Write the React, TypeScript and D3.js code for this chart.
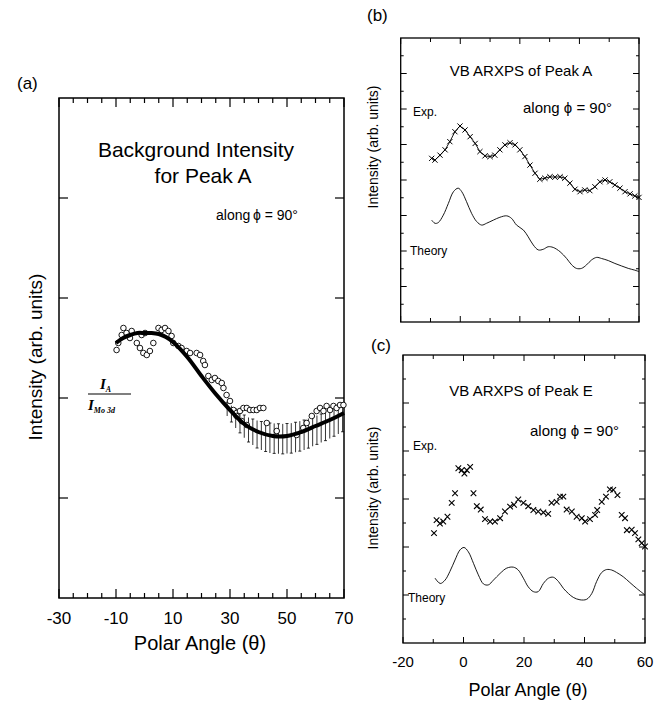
import React from "react";
import * as d3 from "d3";

// ---------- Panel (a) data ----------
const fitA_x = [-10, -7.5, -5, -2.5, 0, 2.5, 5, 7.5, 10, 15, 20, 25, 30, 35, 40, 45, 50, 55, 60, 65, 70];
const fitA_y = [2.55, 2.6, 2.63, 2.65, 2.65, 2.65, 2.64, 2.61, 2.56, 2.41, 2.22, 2.04, 1.88, 1.74, 1.66, 1.62, 1.62, 1.66, 1.72, 1.78, 1.85];

const circA_x = [-9.8, -9.2, -8.0, -7.4, -6.3, -5.1, -4.5, -2.7, -1.6, -0.4, 0.8, 1.9, -1.0, 0.2, 3.1, 4.9, 6.0, 7.2, 8.4, 9.5, 10.1, 11.9, 13.0, 14.8, 16.0, 18.3, 19.5, 20.6, 21.2, 22.4, 23.6, 24.7, 25.9, 27.1, 27.7, 28.8, 30.0, 31.2, 32.3, 33.5, 34.7, 35.9, 37.0, 38.2, 39.4, 40.5, 41.7, 32.3, 34.1, 35.9, 42.9, 46.4, 53.4, 55.7, 56.9, 58.7, 60.4, 61.6, 62.8, 63.9, 65.1, 66.3, 67.4, 68.6, 69.8];
const circA_y = [2.48, 2.55, 2.63, 2.7, 2.65, 2.6, 2.67, 2.55, 2.5, 2.45, 2.43, 2.47, 2.63, 2.65, 2.55, 2.7, 2.68, 2.7, 2.67, 2.62, 2.55, 2.52, 2.5, 2.47, 2.45, 2.45, 2.43, 2.37, 2.33, 2.22, 2.18, 2.2, 2.17, 2.15, 2.1, 2.03, 1.97, 1.88, 1.85, 1.87, 1.9, 1.9, 1.88, 1.88, 1.88, 1.9, 1.9, 1.82, 1.77, 1.73, 1.75, 1.67, 1.63, 1.7, 1.75, 1.82, 1.87, 1.9, 1.87, 1.92, 1.88, 1.92, 1.9, 1.93, 1.93];

const bandA_x = [28, 32, 36, 40, 44, 48, 52, 56, 60, 64, 68, 70];
const bandA_hi = [1.98, 1.89, 1.81, 1.77, 1.75, 1.74, 1.75, 1.78, 1.82, 1.86, 1.91, 1.93];
const bandA_lo = [1.86, 1.7, 1.57, 1.49, 1.45, 1.44, 1.45, 1.48, 1.53, 1.58, 1.64, 1.67];

const xTickLabelsA = [-30, -10, 10, 30, 50, 70];
const yTicksA = [1, 2, 3, 4];

// ---------- Panel (b) data ----------
const expB_x = [-9.6, -8.5, -6.8, -5.1, -3.5, -1.8, -0.1, 1.6, 3.3, 5.0, 6.6, 8.3, 10.0, 11.6, 13.3, 15.0, 16.7, 18.4, 20.0, 21.7, 23.4, 25.1, 26.7, 28.4, 30.1, 31.8, 33.5, 35.1, 36.8, 38.5, 40.2, 41.8, 43.5, 45.2, 46.9, 48.6, 50.2, 51.9, 53.6, 55.3, 57.0, 58.6, 60.0];
const expB_y = [4.61, 4.56, 4.7, 4.85, 5.08, 5.36, 5.52, 5.41, 5.22, 5.03, 4.8, 4.68, 4.66, 4.7, 4.85, 4.99, 5.05, 4.99, 4.85, 4.66, 4.42, 4.19, 4.02, 4.05, 4.09, 4.08, 4.09, 4.05, 3.91, 3.74, 3.67, 3.72, 3.7, 3.81, 3.95, 4.0, 3.95, 3.86, 3.77, 3.67, 3.61, 3.55, 3.51];

const thB_x = [-9.6, -8.5, -7.4, -5.7, -4.0, -2.3, -0.7, 0.5, 2.1, 3.8, 5.5, 7.2, 8.8, 11.1, 13.3, 15.6, 17.2, 18.9, 21.2, 22.8, 24.5, 26.2, 27.9, 29.5, 31.2, 33.5, 35.7, 37.4, 39.0, 40.7, 42.4, 44.1, 45.8, 47.4, 49.7, 51.9, 54.1, 56.4, 58.6, 60.0];
const thB_y = [2.87, 2.78, 2.8, 3.01, 3.34, 3.67, 3.77, 3.67, 3.39, 3.06, 2.83, 2.73, 2.78, 2.87, 2.95, 2.99, 2.92, 2.73, 2.59, 2.4, 2.17, 2.03, 2.05, 2.12, 2.1, 1.98, 1.79, 1.61, 1.51, 1.51, 1.61, 1.75, 1.82, 1.79, 1.73, 1.65, 1.58, 1.51, 1.46, 1.42];

// ---------- Panel (c) data ----------
const expC_x = [-9.75, -8.9, -7.8, -6.7, -5.3, -3.9, -2.8, -1.7, -0.6, 0.3, 1.1, 2.2, 3.3, 4.4, 5.7, 7.1, 8.8, 10.4, 12.1, 13.7, 15.4, 16.7, 18.1, 19.8, 21.4, 23.1, 24.7, 26.4, 28.0, 29.1, 30.8, 31.9, 33.0, 34.1, 35.8, 37.4, 39.1, 40.2, 41.8, 43.5, 44.2, 45.7, 47.1, 48.4, 49.5, 50.9, 52.3, 53.4, 54.0, 55.6, 56.7, 57.8, 58.9, 60.0];
const expC_y = [2.29, 2.56, 2.49, 2.53, 2.63, 2.92, 3.12, 3.64, 3.6, 3.53, 3.6, 3.67, 3.12, 2.85, 2.78, 2.58, 2.53, 2.53, 2.6, 2.74, 2.84, 2.88, 2.99, 2.92, 2.85, 2.77, 2.74, 2.72, 2.69, 2.92, 2.94, 3.05, 3.05, 2.78, 2.74, 2.63, 2.6, 2.53, 2.58, 2.67, 2.77, 2.94, 3.05, 3.2, 3.19, 3.08, 2.67, 2.6, 2.35, 2.36, 2.29, 2.16, 2.08, 2.01];

const thC_x = [-9.4, -7.7, -6.1, -4.5, -2.8, -1.15, 0.17, 1.6, 3.3, 4.9, 6.6, 8.2, 9.9, 12.1, 14.3, 16.5, 18.1, 19.8, 21.4, 23.1, 24.7, 26.4, 28.1, 29.7, 31.4, 33.0, 34.7, 36.3, 38.5, 40.7, 42.4, 44.0, 45.7, 47.3, 49.0, 50.6, 52.8, 55.0, 57.2, 60.0];
const thC_y = [1.35, 1.24, 1.31, 1.49, 1.73, 1.94, 1.99, 1.9, 1.66, 1.42, 1.23, 1.21, 1.31, 1.45, 1.56, 1.58, 1.52, 1.35, 1.17, 1.07, 1.07, 1.24, 1.35, 1.37, 1.28, 1.14, 1.03, 0.95, 0.9, 0.91, 1.03, 1.28, 1.47, 1.53, 1.52, 1.47, 1.38, 1.26, 1.14, 1.0];

const xTicksBC = [-20, -10, 0, 10, 20, 30, 40, 50, 60];
const xTickLabelsC = [-20, 0, 20, 40, 60];

const FONT = "Arial, 'Liberation Sans', Helvetica, sans-serif";

const zip = (xs: number[], ys: number[]) => xs.map((x, i) => [x, ys[i]] as [number, number]);

function Box({ x0, x1, y0, y1, sw }: { x0: number; x1: number; y0: number; y1: number; sw: number }) {
  return <rect x={x0} y={y0} width={x1 - x0} height={y1 - y0} fill="none" stroke="#000" strokeWidth={sw} />;
}

export default function App() {
  const xA = d3.scaleLinear().domain([-30, 70]).range([59, 344]);
  const yA = d3.scaleLinear().domain([0, 5]).range([598, 98]);
  const xB = d3.scaleLinear().domain([-20, 60]).range([400.7, 639]);
  const yB = d3.scaleLinear().domain([0, 8]).range([322, 38]);
  const xC = d3.scaleLinear().domain([-20, 60]).range([403, 645]);
  const yC = d3.scaleLinear().domain([0, 6]).range([643, 355]);

  const lineA = d3.line<[number, number]>().x(d => xA(d[0])).y(d => yA(d[1])).curve(d3.curveCatmullRom);
  const lineB = d3.line<[number, number]>().x(d => xB(d[0])).y(d => yB(d[1])).curve(d3.curveCatmullRom);
  const lineC = d3.line<[number, number]>().x(d => xC(d[0])).y(d => yC(d[1])).curve(d3.curveCatmullRom);

  const hiI = d3.scaleLinear().domain(bandA_x).range(bandA_hi);
  const loI = d3.scaleLinear().domain(bandA_x).range(bandA_lo);
  const hatchXs = d3.range(29, 70.01, 1.5);

  const xMinorA = d3.range(-30, 70.01, 5);
  const yMinorB = d3.range(0.5, 8, 0.5);
  const yMinorC = d3.range(0.5, 6, 0.5);

  const cross = (cx: number, cy: number, s: number, key: string, sw: number) => (
    <path key={key} d={`M${cx - s},${cy - s}L${cx + s},${cy + s}M${cx - s},${cy + s}L${cx + s},${cy - s}`} stroke="#000" strokeWidth={sw} fill="none" />
  );

  return (
    <svg width={667} height={702} style={{ position: "absolute", left: 0, top: 0, background: "#fff" }} fontFamily={FONT}>
      <rect x={0} y={0} width={667} height={702} fill="#fff" />

      {/* ================= Panel (a) ================= */}
      <text x={17} y={89} fontSize={17}>(a)</text>
      {xMinorA.map(v => {
        const major = (v + 30) % 20 === 0;
        const L = major ? 9 : 5;
        return (
          <g key={"xa" + v}>
            <line x1={xA(v)} x2={xA(v)} y1={598} y2={598 - L} stroke="#000" strokeWidth={1.2} />
            <line x1={xA(v)} x2={xA(v)} y1={98} y2={98 + L} stroke="#000" strokeWidth={1.2} />
          </g>
        );
      })}
      {yTicksA.map(v => (
        <g key={"ya" + v}>
          <line x1={59} x2={68} y1={yA(v)} y2={yA(v)} stroke="#000" strokeWidth={1.2} />
          <line x1={344} x2={335} y1={yA(v)} y2={yA(v)} stroke="#000" strokeWidth={1.2} />
        </g>
      ))}
      <Box x0={59} x1={344} y0={98} y1={598} sw={1.5} />
      {xTickLabelsA.map(v => (
        <text key={"xla" + v} x={xA(v)} y={624} fontSize={17} textAnchor="middle">{v}</text>
      ))}
      <text x={200} y={650} fontSize={20} textAnchor="middle">Polar Angle (θ)</text>
      <text transform="translate(42,357) rotate(-90)" fontSize={19} textAnchor="middle">Intensity (arb. units)</text>
      <text x={196} y={157} fontSize={21} textAnchor="middle">Background Intensity</text>
      <text x={203} y={183} fontSize={21} textAnchor="middle">for Peak A</text>
      <text x={216} y={220} fontSize={14}>along</text>
      <text x={253} y={220} fontSize={14}>ϕ = 90°</text>

      {/* I_A / I_Mo3d */}
      <g fontFamily="'Liberation Serif', 'Times New Roman', serif" fontStyle="italic" fontWeight="bold">
        <text x={100} y={389} fontSize={15}>I<tspan fontSize={8} dy={3}>A</tspan></text>
        <line x1={88} x2={131} y1={394} y2={394} stroke="#000" strokeWidth={1.2} />
        <text x={88} y={410} fontSize={15}>I<tspan fontSize={8} dy={3}>Mo 3d</tspan></text>
      </g>

      {/* hatch band */}
      <g stroke="#000" strokeWidth={0.8}>
        {hatchXs.map((v, i) => {
          const px = xA(v);
          const t = yA(hiI(v));
          const b = yA(loI(v));
          return (
            <g key={"h" + i}>
              <line x1={px} x2={px} y1={t} y2={b} />
              <line x1={px - 1.5} x2={px + 1.5} y1={i % 2 ? b : t} y2={i % 2 ? b : t} />
            </g>
          );
        })}
      </g>
      {circA_x.map((x, i) => (
        <circle key={"c" + i} cx={xA(x)} cy={yA(circA_y[i])} r={2.8} fill="#fff" stroke="#000" strokeWidth={0.9} />
      ))}
      <path d={lineA(zip(fitA_x, fitA_y)) || ""} fill="none" stroke="#000" strokeWidth={4} />

      {/* ================= Panel (b) ================= */}
      <text x={367} y={21} fontSize={17}>(b)</text>
      {xTicksBC.map(v => {
        const L = v % 20 === 0 ? 6 : 4;
        return (
          <g key={"xb" + v}>
            <line x1={xB(v)} x2={xB(v)} y1={322} y2={322 - L} stroke="#000" strokeWidth={1} />
            <line x1={xB(v)} x2={xB(v)} y1={38} y2={38 + L} stroke="#000" strokeWidth={1} />
          </g>
        );
      })}
      {yMinorB.map(v => {
        const L = v % 1 === 0 ? 6 : 3;
        return (
          <g key={"yb" + v}>
            <line x1={400.7} x2={400.7 + L} y1={yB(v)} y2={yB(v)} stroke="#000" strokeWidth={1} />
            <line x1={639} x2={639 - L} y1={yB(v)} y2={yB(v)} stroke="#000" strokeWidth={1} />
          </g>
        );
      })}
      <Box x0={400.7} x1={639} y0={38} y1={322} sw={1.3} />
      <text transform="translate(378,147) rotate(-90)" fontSize={14} textAnchor="middle">Intensity (arb. units)</text>
      <text x={521} y={76} fontSize={15} textAnchor="middle">VB ARXPS of Peak A</text>
      <text x={413} y={116} fontSize={12}>Exp.</text>
      <text x={523} y={113} fontSize={15}>along  ϕ = 90°</text>
      <text x={410} y={255} fontSize={12}>Theory</text>
      <path d={lineB(zip(thB_x, thB_y)) || ""} fill="none" stroke="#000" strokeWidth={0.9} />
      <path d={d3.line<[number, number]>().x(d => xB(d[0])).y(d => yB(d[1]))(zip(expB_x, expB_y)) || ""} fill="none" stroke="#000" strokeWidth={0.9} />
      {expB_x.map((x, i) => cross(xB(x), yB(expB_y[i]), 2.6, "eb" + i, 1))}

      {/* ================= Panel (c) ================= */}
      <text x={371} y={351} fontSize={17}>(c)</text>
      {xTicksBC.map(v => {
        const L = v % 20 === 0 ? 6 : 4;
        return (
          <g key={"xc" + v}>
            <line x1={xC(v)} x2={xC(v)} y1={643} y2={643 - L} stroke="#000" strokeWidth={1} />
            <line x1={xC(v)} x2={xC(v)} y1={355} y2={355 + L} stroke="#000" strokeWidth={1} />
          </g>
        );
      })}
      {yMinorC.map(v => {
        const L = v % 1 === 0 ? 6 : 3;
        return (
          <g key={"yc" + v}>
            <line x1={403} x2={403 + L} y1={yC(v)} y2={yC(v)} stroke="#000" strokeWidth={1} />
            <line x1={645} x2={645 - L} y1={yC(v)} y2={yC(v)} stroke="#000" strokeWidth={1} />
          </g>
        );
      })}
      <Box x0={403} x1={645} y0={355} y1={643} sw={1.3} />
      {xTickLabelsC.map(v => (
        <text key={"xlc" + v} x={xC(v)} y={667} fontSize={15} textAnchor="middle">{v}</text>
      ))}
      <text x={528} y={696} fontSize={18} textAnchor="middle">Polar Angle (θ)</text>
      <text transform="translate(378,488) rotate(-90)" fontSize={14} textAnchor="middle">Intensity (arb. units)</text>
      <text x={521} y={396} fontSize={15} textAnchor="middle">VB ARXPS of Peak E</text>
      <text x={530} y={436} fontSize={15}>along  ϕ = 90°</text>
      <text x={413} y={450} fontSize={12}>Exp.</text>
      <text x={408} y={602} fontSize={12}>Theory</text>
      <path d={lineC(zip(thC_x, thC_y)) || ""} fill="none" stroke="#000" strokeWidth={0.9} />
      {expC_x.map((x, i) => cross(xC(x), yC(expC_y[i]), 2.8, "ec" + i, 1.1))}
    </svg>
  );
}
